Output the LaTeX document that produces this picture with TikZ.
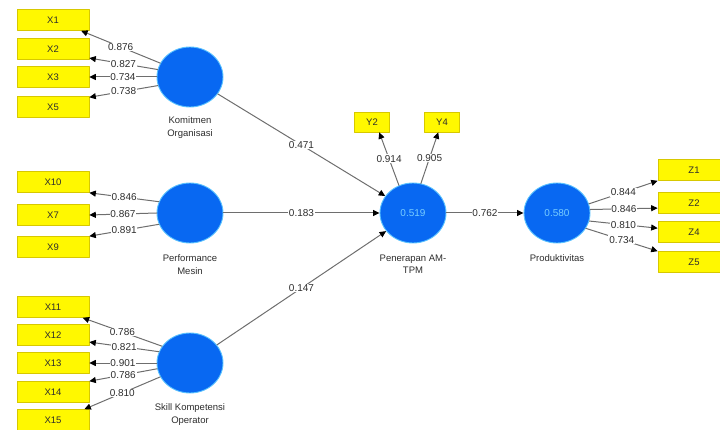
\documentclass[tikz,border=0pt]{standalone}
\usepackage{fontspec}
\setmainfont{Liberation Sans}
\usetikzlibrary{arrows.meta}
\usetikzlibrary{positioning}
\usetikzlibrary{shapes.geometric}
\definecolor{lvblue}{RGB}{8,104,242}
\definecolor{lvedge}{RGB}{90,195,255}
\definecolor{lvtext}{RGB}{120,205,255}
\definecolor{indyellow}{RGB}{255,248,0}
\definecolor{indedge}{RGB}{215,200,0}
\definecolor{pathgray}{RGB}{110,110,110}
\definecolor{labgray}{RGB}{45,45,45}
\tikzset{
  indbox/.style={draw=indedge,fill=indyellow,line width=0.6pt,minimum width=72pt,minimum height=21pt,inner sep=0pt,text=labgray,font=\fontsize{9.5}{10}\selectfont},
  latent/.style={ellipse,draw=lvedge,line width=0.9pt,fill=lvblue,minimum width=66pt,minimum height=60pt,inner sep=0pt,text=lvtext,font=\fontsize{10}{11}\selectfont},
  lvname/.style={align=center,text=labgray,inner sep=1pt,font=\fontsize{9.5}{12.5}\selectfont},
  pathline/.style={draw=pathgray,line width=1pt,->},
  coef/.style={fill=white,inner sep=0.8pt,text=labgray,font=\fontsize{10}{11}\selectfont}
}
\begin{document}
\begin{tikzpicture}[line cap=round,line join=round,>={Triangle[color=black,length=6.5pt,width=6pt]},x=1pt,y=-1pt]
\useasboundingbox (0,0) rectangle (720,430);
\clip (0,0) rectangle (720,430);
\node[latent] (kom) at (190,77) {};
\node[latent] (perf) at (190,213) {};
\node[latent] (skill) at (190,363) {};
\node[latent] (pen) at (413,213) {0.519};
\node[latent] (prod) at (557,213) {0.580};
\node[lvname,below=8pt of kom] (komlab) {Komitmen\\Organisasi};
\node[lvname,below=10pt of perf] (perflab) {Performance\\Mesin};
\node[lvname,below=9pt of skill] (skilllab) {Skill Kompetensi\\Operator};
\node[lvname,below=10pt of pen] (penlab) {Penerapan AM-\\TPM};
\node[lvname,below=10pt of prod] (prodlab) {Produktivitas};
\foreach \n/\y in {X1/20,X2/49,X3/77,X5/107,X10/182,X7/215,X9/247,X11/307,X12/335,X13/363,X14/392,X15/420}
\node[indbox] (\n) at (53,\y) {\n};
\foreach \n/\y in {Z1/170,Z2/203,Z4/232,Z5/262}
\node[indbox] (\n) at (694,\y) {\n};
\node[indbox,minimum width=35pt,minimum height=20pt] (Y2) at (372,122) {Y2};
\node[indbox,minimum width=35pt,minimum height=20pt] (Y4) at (442,122) {Y4};
\foreach \a/\b/\v in {155/X1.-21/0.876,167/X2.-14/0.827,180/X3.east/0.734,195/X5.15/0.738}
\draw[pathline] (kom.\a) -- (\b) node[coef,midway] {\v};
\foreach \a/\b/\v in {160/X10.south east/0.846,180/X7.east/0.867,200/X9.north east/0.891}
\draw[pathline] (perf.\a) -- (\b) node[coef,midway] {\v};
\foreach \a/\b/\v in {149/X11.-20/0.786,160/X12.-11/0.821,180/X13.east/0.901,190/X14.north east/0.786,205/X15.19/0.810}
\draw[pathline] (skill.\a) -- (\b) node[coef,midway] {\v};
\draw[pathline] (pen.117) -- (Y2.-55) node[coef,midway] {0.914};
\draw[pathline] (pen.75) -- (Y4.-110) node[coef,midway] {0.905};
\foreach \a/\b/\v in {16/Z1.south west/0.844,6/Z2.188/0.846,-14/Z4.174/0.810,-28/Z5.north west/0.734}
\draw[pathline] (prod.\a) -- (\b) node[coef,midway] {\v};
\draw[pathline] (kom) -- (pen) node[coef,midway] {0.471};
\draw[pathline] (perf) -- (pen) node[coef,midway] {0.183};
\draw[pathline] (skill) -- (pen) node[coef,midway] {0.147};
\draw[pathline] (pen) -- (prod) node[coef,midway] {0.762};
\end{tikzpicture}
\end{document}
